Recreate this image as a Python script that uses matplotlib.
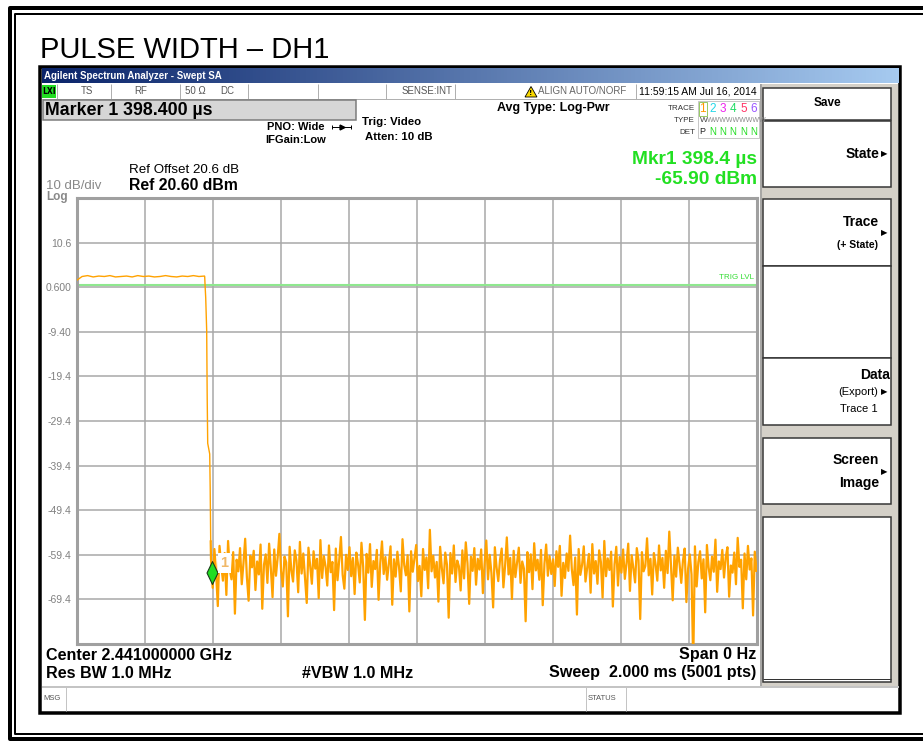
import numpy as np
import matplotlib.pyplot as plt
from matplotlib.patches import Rectangle, Polygon
from matplotlib.path import Path

plt.rcParams['font.family'] = ['Liberation Sans', 'DejaVu Sans']
NARROW = ['Liberation Sans Narrow', 'Liberation Sans', 'DejaVu Sans']

W, H = 923, 742

# ---- trace data (time in ms, level in dBm) ----
pulse_db = [2.1, 3.0, 3.2, 2.9, 3.1, 3.0, 3.2, 2.9, 3.0, 3.1, 2.9, 3.2,
            3.0, 3.1, 2.9, 3.0, 3.2, 3.0, 2.9, 3.1, 3.0, 3.2, 3.0, 3.1]
pulse_end = 0.3765
edge_t = [0.3770, 0.3785, 0.3800, 0.3829, 0.3844, 0.3859, 0.3918, 0.3932, 0.3947]
edge_db = [3.0, 0.5, -1.7, -9.1, -24.2, -34.4, -36.8, -44.5, -56.4]
noise_db = [
    -60.2, -66.8, -58.1, -63.5, -70.9, -57.4, -61.8, -65.2, -59.0, -68.4, -56.3, -62.7, -64.9, -58.8, -72.6, -60.5, -63.1, -57.9, -66.0, -61.3,
    -55.8, -64.4, -69.7, -59.6, -62.2, -58.5, -67.3, -60.9, -63.8, -57.1, -71.5, -61.6, -59.3, -65.7, -56.9, -62.4, -68.9, -58.2, -64.1, -60.0,
    -54.7, -63.0, -66.5, -59.8, -61.1, -73.2, -57.6, -62.9, -65.4, -58.4, -60.7, -67.8, -56.5, -63.6, -59.1, -64.8, -70.2, -57.8, -61.9, -65.9,
    -58.6, -62.5, -60.3, -69.1, -56.1, -64.6, -59.7, -62.0, -66.3, -57.3, -63.3, -61.0, -71.8, -58.0, -65.1, -60.6, -55.4, -63.9, -67.0, -59.4,
    -62.8, -57.7, -64.2, -60.1, -68.2, -58.9, -61.5, -65.6, -56.7, -62.1, -74.0, -59.2, -63.4, -57.0, -66.6, -60.8, -62.6, -58.3, -69.5, -61.2,
    -56.4, -63.7, -59.9, -65.0, -61.4, -57.5, -70.6, -60.4, -64.3, -58.7, -62.3, -67.6, -55.9, -61.7, -64.0, -59.5, -72.1, -58.6, -63.2, -60.2,
    -57.2, -65.3, -61.9, -68.7, -58.1, -62.8, -60.0, -66.9, -53.8, -63.1, -59.6, -64.5, -61.0, -69.9, -57.6, -62.4, -65.8, -58.9, -61.6, -73.5,
    -59.0, -63.6, -57.3, -65.5, -60.7, -62.0, -67.4, -58.4, -64.7, -56.6, -61.3, -70.4, -59.8, -63.0, -57.9, -66.1, -60.3, -62.7, -58.2, -68.0,
    -61.5, -56.2, -64.9, -59.4, -63.5, -71.2, -57.7, -62.2, -65.3, -60.6, -58.0, -66.7, -61.8, -55.5, -63.8, -60.1, -69.3, -58.5, -64.4, -61.1,
    -57.8, -65.7, -60.9, -62.5, -74.3, -58.8, -63.3, -59.3, -67.1, -56.8, -62.9, -60.5, -65.0, -58.3, -70.7, -61.4, -57.1, -64.1, -59.7, -63.7,
    -60.4, -66.4, -58.6, -62.1, -57.4, -68.6, -61.2, -64.6, -59.1, -63.0, -55.1, -62.6, -66.2, -60.0, -72.8, -58.1, -63.9, -61.7, -57.5, -65.4,
    -62.3, -59.2, -67.9, -57.0, -63.6, -60.8, -65.9, -58.4, -61.0, -69.0, -56.3, -64.2, -60.2, -62.8, -58.7, -71.0, -61.5, -57.6, -66.3, -59.9,
    -63.4, -58.2, -64.8, -61.3, -56.9, -67.5, -59.5, -62.4, -65.6, -57.9, -60.6, -73.8, -58.8, -63.1, -61.9, -55.7, -64.0, -60.3, -68.3, -59.0,
    -61.6, -65.2, -57.3, -62.9, -60.1, -66.8, -58.5, -63.5, -54.2, -62.0, -69.6, -59.6, -64.3, -57.8, -61.4, -65.7, -60.7, -58.0, -70.0, -62.5,
    -59.3, -63.8, -84.0, -57.5, -66.5, -61.0, -58.6, -64.7, -60.4, -72.3, -57.2, -62.2, -65.1, -59.8, -63.2, -56.0, -67.7, -60.9, -62.6, -58.3,
    -64.5, -60.0, -57.7, -68.8, -61.8, -63.4, -58.9, -66.0, -55.6, -62.1, -60.5, -71.4, -59.1, -64.9, -57.4, -62.7, -60.2, -73.0, -58.7, -63.0,
]
noise_start, sweep_ms = 0.3955, 2.0
marker_t, marker_db = 0.3984, -65.90
trig_db = 1.2
ref_db, db_div = 20.6, 10
ytick_vals = [10.6, 0.6, -9.4, -19.4, -29.4, -39.4, -49.4, -59.4, -69.4]
ytick_labels = ['10.6', '0.600', '-9.40', '-19.4', '-29.4', '-39.4', '-49.4', '-59.4', '-69.4']

softkeys = [
    # (top, bottom, lines: (text, y, size, weight, x_right))
    (88, 120, []),
    (121, 187, [('State', 154, 10, 'bold', 879)]),
    (199, 266, [('Trace', 222, 10, 'bold', 879), ('(+ State)', 245, 7.5, 'bold', 878)]),
    (266, 358, []),
    (358, 425, [('Data', 375, 10, 'bold', 890), ('(Export)', 392, 8, 'normal', 878),
                ('Trace 1', 409, 8, 'normal', 878)]),
    (438, 504, [('Screen', 460, 10, 'bold', 879), ('Image', 483, 10, 'bold', 879)]),
    (517, 682, []),
]
arrows_y = [154, 233, 392, 472]

fig = plt.figure(figsize=(W / 100, H / 100), dpi=100)
fig.patch.set_facecolor('white')

ov = fig.add_axes([0, 0, 1, 1])
ov.set_xlim(0, W)
ov.set_ylim(H, 0)
ov.axis('off')
ov.set_zorder(0)


def px(v):
    return v * 0.72


def box(x0, y0, x1, y1, fc='white', ec='none', lw=1.0, z=1):
    ov.add_patch(Rectangle((x0, y0), x1 - x0, y1 - y0, facecolor=fc, edgecolor=ec,
                           linewidth=px(lw), zorder=z))


def hline(y, x0, x1, color, lw, z=2):
    ov.plot([x0, x1], [y, y], color=color, lw=px(lw), zorder=z, solid_capstyle='butt')


def vline(x, y0, y1, color, lw, z=2):
    ov.plot([x, x], [y0, y1], color=color, lw=px(lw), zorder=z, solid_capstyle='butt')


def txt(x, y, s, size=8, color='black', weight='normal', ha='left', va='center', family=None, z=5):
    kw = {}
    if family is not None:
        kw['family'] = family
    ov.text(x, y, s, fontsize=size, color=color, fontweight=weight, ha=ha, va=va, zorder=z, **kw)


# outer document frame
ov.plot([940, 9.5, 9.5, 940], [7.5, 7.5, 738.5, 738.5], color='black', lw=px(4), zorder=3)
ov.plot([940, 14.5, 14.5, 940], [14, 14, 733.5, 733.5], color='black', lw=px(2), zorder=3)

# heading
txt(40, 50, 'PULSE WIDTH \u2013 DH1', size=21, color='black')

# screenshot window
box(40, 67, 900, 713, fc='white', ec='black', lw=3.5, z=1)
grad = np.linspace(0, 1, 256).reshape(1, -1)
ov.imshow(grad, extent=(41.5, 898.5, 83.5, 68.5), aspect='auto', zorder=2,
          cmap=plt.matplotlib.colors.LinearSegmentedColormap.from_list('tb', ['#0a246a', '#a6caf0']))
txt(44, 76, 'Agilent Spectrum Analyzer - Swept SA', size=7, color='white', weight='bold')

# status row
hline(98.5, 41.5, 760, '#b0b0b0', 1)
for xs in [57, 111, 180, 248, 318, 386, 455, 636, 760]:
    vline(xs, 84, 98.5, '#b0b0b0', 1)
box(42, 85, 56, 98, fc='#22dd22', z=2)
txt(49, 91.5, 'LXI', size=5.5, weight='bold', ha='center', family=['DejaVu Sans'])
txt(87, 91, 'TS', size=7, color='#555555', ha='center')
txt(141, 91, 'RF', size=7, color='#555555', ha='center')
txt(195, 91, '50 \u03a9', size=7, color='#555555', ha='center')
txt(227, 91, 'DC', size=7, color='#555555', ha='center')
txt(452, 91, 'SENSE:INT', size=7, color='#555555', ha='right')
ov.add_patch(Polygon([(525, 97), (531, 86.5), (537, 97)], closed=True, facecolor='#f8d800',
                     edgecolor='black', linewidth=0.6, zorder=3))
txt(531, 93, '!', size=5, weight='bold', ha='center', family=['DejaVu Sans'])
txt(538, 91, 'ALIGN AUTO/NORF', size=7, color='#666666')
txt(757, 91, '11:59:15 AM Jul 16, 2014', size=7.5, color='black', ha='right')

# marker banner
box(43, 100, 356, 120, fc='#d6d6d6', ec='#7a7a7a', lw=1.5, z=2)
txt(45, 110.5, 'Marker 1 398.400 \u00b5s', size=12.8, weight='bold')

txt(267, 127, 'PNO: Wide', size=8, weight='bold')
ov.plot([332, 351], [127, 127], color='black', lw=0.7, zorder=3)
ov.plot([341.5], [127], marker='>', color='black', ms=3.5, zorder=3)
ov.plot([332, 351], [127, 127], ls='none', marker='|', color='black', ms=3, mew=0.7, zorder=3)
txt(265, 140, 'IFGain:Low', size=8, weight='bold')
txt(362, 122, 'Trig: Video', size=8.2, weight='bold')
txt(365, 137, 'Atten: 10 dB', size=8.2, weight='bold')
txt(497, 108, 'Avg Type: Log-Pwr', size=9, weight='bold')

# trace table
box(698, 101, 759, 138, fc='white', ec='#c8c8c8', lw=1, z=2)
txt(695, 108, 'TRACE', size=5.8, color='#333333', ha='right')
txt(695, 121, 'TYPE', size=5.8, color='#333333', ha='right')
txt(695, 132, 'DET', size=5.8, color='#333333', ha='right')
trace_cols = ['#ff9900', '#22d8e8', '#ee22ee', '#22dd66', '#ff3366', '#9955ff']
for i, c in enumerate(trace_cols):
    txt(702.5 + i * 10.3, 108.5, str(i + 1), size=8.5, color=c, ha='center')
box(698.5, 101.5, 707, 116, fc='none', ec='#99cc66', lw=1, z=3)
txt(699.5, 121, 'W', size=6, color='#444444')
txt(707, 121, 'WWWWWWWWW', size=5, color='#888888', family=NARROW)
txt(699.5, 132, 'P', size=6.5, color='#222222')
for i in range(5):
    txt(712.5 + i * 10.3, 132, 'N', size=7, color='#22dd22', ha='center')

# marker readout
txt(757, 160, 'Mkr1 398.4 \u00b5s', size=13.8, color='#22e022', weight='bold', ha='right')
txt(757, 180, '-65.90 dBm', size=13.8, color='#22e022', weight='bold', ha='right')

txt(129, 170, 'Ref Offset 20.6 dB', size=9.6)
txt(129, 185, 'Ref 20.60 dBm', size=11.3, weight='bold')
txt(46, 186, '10 dB/div', size=9.5, color='#888888')
txt(46, 197, 'Log', size=8.5, color='#888888', weight='bold')

# soft key panel
box(760, 84, 898, 686, fc='#d4d0c8', z=1)
vline(760.5, 84, 686, '#9a9a9a', 1.5)
for top, bot, lines in softkeys:
    box(763, top, 891, bot, fc='white', ec='#333333', lw=1.5, z=2)
    for s, y, size, wt, xr in lines:
        txt(xr, y, s, size=size, weight=wt, ha='right')
txt(827, 103, 'Save', size=8.5, weight='bold', ha='center')
for ya in arrows_y:
    txt(881, ya, '\u25b6', size=6, ha='left', family=['DejaVu Sans'])
hline(679, 763, 891, '#333333', 1)

# bottom annotations
txt(46, 655, 'Center 2.441000000 GHz', size=11.6, weight='bold', family=NARROW)
txt(756, 655, 'Span 0 Hz', size=11.6, weight='bold', ha='right', family=NARROW)
txt(46, 673, 'Res BW 1.0 MHz', size=11.6, weight='bold', family=NARROW)
txt(302, 673, '#VBW 1.0 MHz', size=11.6, weight='bold', family=NARROW)
txt(756, 673, 'Sweep  2.000 ms (5001 pts)', size=11.6, weight='bold', ha='right', family=NARROW)

# message row
hline(686.5, 41.5, 898.5, '#c4c4c4', 2)
vline(66, 687, 711, '#c4c4c4', 1)
vline(586, 687, 711, '#c4c4c4', 1)
vline(626, 687, 711, '#c4c4c4', 1)
txt(43, 699, 'MSG', size=5.5, color='#555555')
txt(588, 699, 'STATUS', size=5.5, color='#555555')

# ---- trace axes ----
ax_l, ax_r, ax_t, ax_b = 76.5, 756.5, 198, 644
ax = fig.add_axes([ax_l / W, 1 - ax_b / H, (ax_r - ax_l) / W, (ax_b - ax_t) / H])
ax.set_zorder(1)
ax.set_facecolor('white')

pulse_t = np.linspace(0, pulse_end, len(pulse_db))
noise_t = np.linspace(noise_start, sweep_ms, len(noise_db))
ax.plot(np.concatenate([pulse_t, edge_t]), np.concatenate([pulse_db, edge_db]),
        color='#ffa200', lw=1.0, zorder=3)
ax.plot(np.concatenate([edge_t[-1:], noise_t]), np.concatenate([edge_db[-1:], noise_db]),
        color='#ffa200', lw=1.6, zorder=3)

ax.axhline(trig_db, color='#8fe88f', lw=1.5, zorder=2)
ax.text(1.994, trig_db + 0.8, 'TRIG LVL', color='#33dd33', fontsize=5.8, ha='right', va='bottom')

diamond = Path([(0, 0), (0.48, 1), (0, 2), (-0.48, 1), (0, 0)],
               [Path.MOVETO, Path.LINETO, Path.LINETO, Path.LINETO, Path.CLOSEPOLY])
ax.plot([marker_t], [marker_db], marker=diamond, ms=33, mfc='#22dd22', mec='#1a3a1a',
        mew=0.8, ls='none', zorder=5, clip_on=False)
ax.annotate('1', (marker_t, marker_db), xytext=(9, 15), textcoords='offset points',
            fontsize=10.5, fontweight='bold', color='#f0b868', ha='center', va='center', zorder=6,
            bbox=dict(boxstyle='square,pad=0.2', fc='white', ec='none'))

ax.set_xlim(0, sweep_ms)
ax.set_ylim(ref_db - 10 * db_div, ref_db)
ax.set_xticks(np.linspace(0, sweep_ms, 11))
ax.set_xticklabels([])
ax.set_yticks(ytick_vals, ytick_labels)
ax.tick_params(length=0, labelsize=7.5, labelcolor='#808080', pad=3.5)
ax.grid(True, color='#a8a8a8', lw=1.1)
for sp in ax.spines.values():
    sp.set_color('#a0a0a0')
    sp.set_linewidth(2.2)

fig.savefig('out.png', dpi=100, facecolor='white')
